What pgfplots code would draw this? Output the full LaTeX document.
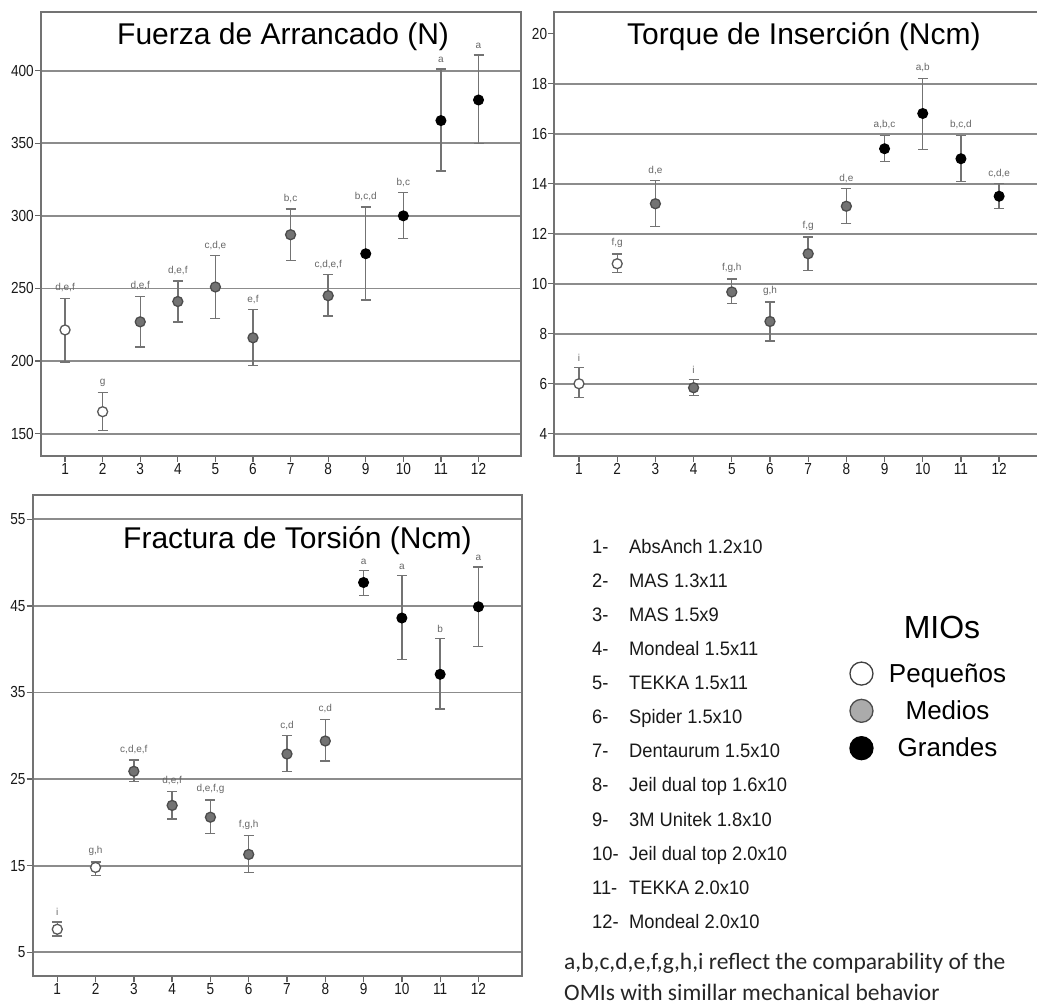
\documentclass[border=0pt]{standalone}
\usepackage{fontspec}
\setmainfont{Liberation Sans}
\newfontfamily\narrowfont[FakeStretch=0.85]{Liberation Sans}
\newfontfamily\listfont[FakeStretch=0.94]{Liberation Sans}
\newfontfamily\calfont{Carlito}
\usepackage{pgfplots}
\usepackage{pgfplotstable}
\pgfplotsset{compat=1.18}

\pgfplotstableread{
x y hi lo lab
1 221.4 243.1 199.3 d,e,f
2 165.1 178.4 152.0 g
3 227.0 244.5 209.6 d,e,f
4 241.0 255.1 227.0 d,e,f
5 251.0 272.5 229.3 c,d,e
6 216.0 235.5 197.0 e,f
7 287.0 304.8 269.3 b,c
8 245.0 259.4 231.0 c,d,e,f
9 273.9 306.2 242.0 b,c,d
10 300.0 316.0 284.4 b,c
11 365.6 401.0 330.9 a
12 379.8 410.8 349.8 a
}\fuerza

\pgfplotstableread{
x y hi lo lab
1 6.00 6.64 5.46 i
2 10.80 11.19 10.45 f,g
3 13.20 14.12 12.30 d,e
4 5.84 6.18 5.52 i
5 9.67 10.19 9.20 f,g,h
6 8.49 9.27 7.71 g,h
7 11.20 11.87 10.53 f,g
8 13.10 13.81 12.41 d,e
9 15.40 15.94 14.90 a,b,c
10 16.81 18.22 15.37 a,b
11 15.00 15.94 14.08 b,c,d
12 13.50 14.00 13.00 c,d,e
}\torque

\pgfplotstableread{
x y hi lo lab
1 7.66 8.50 6.88 i
2 14.80 15.45 13.88 g,h
3 25.90 27.20 24.70 c,d,e,f
4 21.96 23.60 20.40 d,e,f
5 20.60 22.60 18.70 d,e,f,g
6 16.30 18.50 14.20 f,g,h
7 27.90 30.00 25.90 c,d
8 29.40 31.90 27.10 c,d
9 47.70 49.10 46.20 a
10 43.60 48.50 38.80 a
11 37.10 41.20 33.10 b
12 44.90 49.50 40.30 a
}\fractura

\pgfplotsset{
  panel/.style={
    scale only axis, anchor=south west,
    xtick={1,...,12},
    xtick pos=left, ytick pos=left,
    tick align=outside,
    major tick length=6pt,
    ymajorgrids,
    grid style={line width=1.8pt, black!45},
    axis line style={line width=1.8pt, black!55},
    tick style={line width=1.3pt, black!60},
    /pgf/number format/assume math mode=true,
    ticklabel style={font=\narrowfont\fontsize{16}{16}\selectfont, text=black!90, inner sep=1pt},
  },
  grp/.style={only marks, mark=*, mark size=5pt, forget plot,
    error bars/y dir=both, error bars/y explicit,
    error bars/error bar style={line width=1.4pt, black!55},
    error bars/error mark options={rotate=90, mark size=5pt, line width=1.4pt, black!55}},
  wht/.style={grp, mark options={fill=white, draw=black!65, line width=1.3pt}},
  gry/.style={grp, mark options={fill=black!55, draw=black!70, line width=1.3pt}},
  blk/.style={grp, mark options={fill=black, draw=black, line width=1pt}},
  labs/.style={draw=none, mark=none, forget plot, nodes near coords, point meta=explicit symbolic,
    nodes near coords style={font=\fontsize{10}{10}\selectfont, text=black!60, anchor=south, inner sep=0pt, yshift=6pt}},
}

\newcommand{\panelplots}[1]{%
  \addplot[wht, restrict x to domain=1:2] table[x=x, y=y, y error plus expr=\thisrow{hi}-\thisrow{y}, y error minus expr=\thisrow{y}-\thisrow{lo}] #1;
  \addplot[gry, restrict x to domain=3:8] table[x=x, y=y, y error plus expr=\thisrow{hi}-\thisrow{y}, y error minus expr=\thisrow{y}-\thisrow{lo}] #1;
  \addplot[blk, restrict x to domain=9:12] table[x=x, y=y, y error plus expr=\thisrow{hi}-\thisrow{y}, y error minus expr=\thisrow{y}-\thisrow{lo}] #1;
  \addplot[labs] table[x=x, y=hi, meta=lab] #1;
}

\begin{document}
\begin{tikzpicture}
\useasboundingbox (0pt,0pt) rectangle (1037pt,1008pt);

% Top-left: Fuerza de Arrancado
\begin{axis}[panel, at={(41pt,552pt)}, width=480pt, height=444pt,
  xmin=0.36, xmax=13.13, ymin=134.6, ymax=440.4,
  ytick={150,200,...,400}]
\panelplots{\fuerza}
\end{axis}

% Top-right: Torque de Insercion
\begin{axis}[panel, at={(554.3pt,552pt)}, width=485.7pt, height=444pt,
  xmin=0.353, xmax=13.07, ymin=3.11, ymax=20.87,
  ytick={4,6,...,18}, extra y ticks={20}, extra y tick style={grid=none}]
\panelplots{\torque}
\end{axis}

% Bottom-left: Fractura de Torsion
\begin{axis}[panel, at={(32.7pt,31.7pt)}, width=489pt, height=481.6pt,
  xmin=0.358, xmax=13.13, ymin=2.23, ymax=57.84,
  ytick={5,15,...,55},
  legend style={at={(axis description cs:1.833,0.551)}, anchor=center, draw=none, fill=none,
    font=\fontsize{26}{26}\selectfont, row sep=13pt,
    /tikz/every odd column/.append style={column sep=14pt}},
  legend cell align=center]
\panelplots{\fractura}
\addlegendimage{only marks, mark=*, mark size=11.5pt, mark options={fill=white, draw=black!75, line width=1.3pt}}
\addlegendentry{Pequeños}
\addlegendimage{only marks, mark=*, mark size=11.5pt, mark options={fill=black!33, draw=black!70, line width=1.3pt}}
\addlegendentry{Medios}
\addlegendimage{only marks, mark=*, mark size=11.5pt, mark options={fill=black, draw=black, line width=1.3pt}}
\addlegendentry{Grandes}
\end{axis}

% Titles
\node[anchor=base west, inner sep=0pt, font=\fontsize{30}{30}\selectfont] at (117pt,963pt) {Fuerza de Arrancado (N)};
\node[anchor=base west, inner sep=0pt, font=\fontsize{30}{30}\selectfont] at (627pt,963pt) {Torque de Inserción (Ncm)};
\node[anchor=base west, inner sep=0pt, font=\fontsize{30}{30}\selectfont] at (123pt,459.7pt) {Fractura de Torsión (Ncm)};

% List of devices
\foreach \i/\t in {1/AbsAnch 1.2x10, 2/MAS 1.3x11, 3/MAS 1.5x9, 4/Mondeal 1.5x11, 5/TEKKA 1.5x11, 6/Spider 1.5x10, 7/Dentaurum 1.5x10, 8/Jeil dual top 1.6x10, 9/3M Unitek 1.8x10, 10/Jeil dual top 2.0x10, 11/TEKKA 2.0x10, 12/Mondeal 2.0x10} {
  \node[anchor=base west, inner sep=0pt, text=black!90, font=\listfont\fontsize{19.5}{20}\selectfont] at (592pt,{(454.7-(\i-1)*34.1)*1pt}) {\i-};
  \node[anchor=base west, inner sep=0pt, text=black!90, font=\listfont\fontsize{19.5}{20}\selectfont] at (629pt,{(454.7-(\i-1)*34.1)*1pt}) {\t};
}

% Legend title
\node[anchor=base, inner sep=0pt, font=\fontsize{32}{32}\selectfont] at (942pt,369pt) {MIOs};

% Footnote
\node[anchor=base west, inner sep=0pt, text=black!85, font=\calfont\fontsize{23.5}{24}\selectfont] at (564pt,38pt) {a,b,c,d,e,f,g,h,i reflect the comparability of the};
\node[anchor=base west, inner sep=0pt, text=black!85, font=\calfont\fontsize{23.5}{24}\selectfont] at (564pt,7pt) {OMIs with simillar mechanical behavior};
\end{tikzpicture}
\end{document}
